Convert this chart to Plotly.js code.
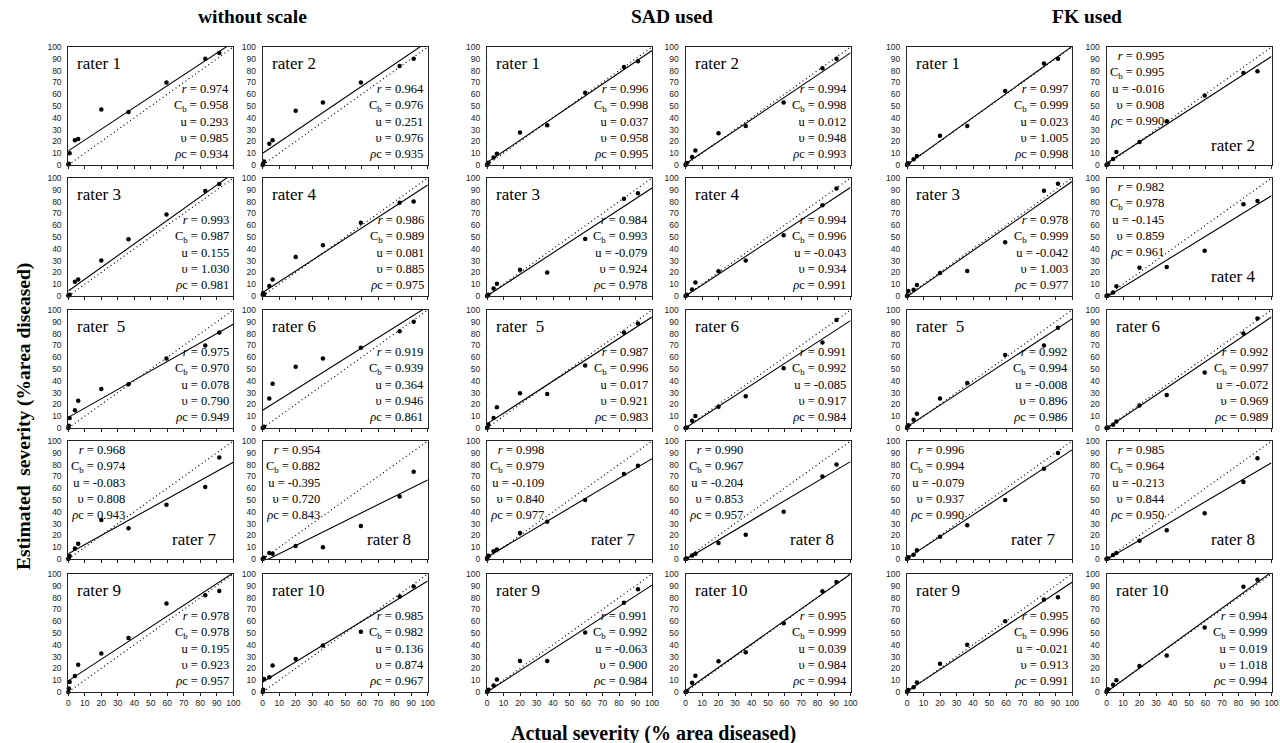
<!DOCTYPE html>
<html>
<head>
<meta charset="utf-8">
<script src="https://cdn.plot.ly/plotly-3.0.1.min.js"></script>
<style>html,body{margin:0;padding:0;background:#fff;}#chart{width:1280px;height:743px;}</style>
</head>
<body>
<div id="chart"></div>
<script>
// ---------- data ----------
const actual = [0, 0.3, 0.8, 4, 6, 20, 36.5, 59.5, 83, 91.5];
const groupNames = ['without scale', 'SAD used', 'FK used'];
const raterLabels = ['rater 1','rater 2','rater 3','rater 4','rater\u00a0 5','rater 6','rater 7','rater 8','rater 9','rater 10'];
const tickVals = [0,10,20,30,40,50,60,70,80,90,100];
const identity = [0, 100];

const noScaleY = [
  [0.5, 1, 10, 21, 22, 47, 45, 70, 90, 95],
  [0, 1, 3, 18, 21, 46, 53, 70, 84, 90],
  [0.5, 0.5, 1, 12, 14, 30, 48, 69, 89, 95],
  [1, 2.5, 1.5, 8.5, 14, 33, 43, 62, 79, 80],
  [0, 2, 8.5, 15, 23, 33, 37, 59, 70, 81],
  [0, 0.5, 1, 25, 37.5, 52, 59, 68, 82, 90],
  [0, 1, 2.5, 9, 13, 33, 26, 46, 61, 86],
  [0, 0.5, 1, 5, 4.5, 11, 10, 28, 53, 74],
  [0, 3, 8.5, 13.6, 23, 32.7, 45.7, 75, 82, 85.5],
  [0, 2, 11, 12.5, 22.4, 28, 39.5, 51, 81, 89.5]
];
const sadY = [
  [0, 1, 2, 6.4, 9.5, 27.5, 33.6, 61.3, 83, 88],
  [0, 1, 1.7, 6.7, 12.3, 27, 33, 53, 82, 90],
  [0, 0.5, 1, 6.4, 10.3, 22.3, 20, 48.3, 82.4, 87],
  [0, 0.5, 1, 5.6, 11.5, 21, 30, 51.5, 77, 91],
  [0, 0.5, 3, 8.4, 17.6, 29.4, 28.9, 53, 81, 88.5],
  [0, 0.3, 0.5, 6.2, 10.2, 18, 27, 50.7, 72.5, 91.5],
  [0, 1.4, 2.8, 6.5, 8, 22, 31.5, 50, 72, 79],
  [0, 0.3, 0.5, 3, 4.5, 13.5, 20.5, 40, 70, 80],
  [0, 1, 2, 5.6, 10.6, 26.3, 26.3, 50.4, 75.6, 87],
  [0, 0.3, 0.5, 7.8, 13.7, 26, 33.6, 58.3, 85.4, 93.3]
];
const fkY = [
  [0, 1, 1.4, 4.8, 7.6, 24.8, 33, 62.8, 86, 90],
  [0, 0.5, 1, 5, 11, 19.4, 37, 59, 78, 79.4],
  [0, 0.5, 4.2, 5.4, 9.3, 19.5, 21.2, 45.5, 89.3, 95.2],
  [0, 0.3, 0.5, 3, 8.2, 24, 24.6, 38.4, 77.7, 80.5],
  [0, 1.4, 2.3, 7, 12, 25, 38.2, 61.8, 70, 85],
  [0, 0.3, 0.5, 2.8, 5.6, 19, 28, 47, 80, 92.7],
  [0, 0.9, 1.4, 3.7, 7.4, 18.8, 28.7, 50, 76.4, 89.8],
  [0, 0.3, 0.5, 3.4, 5, 15.4, 24.4, 38.7, 65.3, 85.4],
  [0, 1, 1.7, 4, 8, 24, 40, 60, 78.3, 80.3],
  [0, 1.4, 2.3, 6.2, 10, 22, 31, 54.6, 89.3, 95.2]
];
// regression line: estimated value at actual = 0 and at actual = 100
const lineX = [0, 100];
const noScaleLine = [[12,104],[10,104.5],[4.3,104],[3,94],[9,88],[15,103],[4.5,82],[-2.5,67],[9.4,101],[8.5,94]];
const sadLine = [[2,97],[1,95],[0,91.5],[0,92],[3.5,94],[0,91],[1.5,85],[-0.5,82.5],[0,90.5],[1,100]];
const fkLine = [[0.3,100.5],[1.5,92],[-0.5,97],[-1,85],[1,92.5],[-0.5,94],[0.5,92.5],[-0.5,81.5],[0.5,93],[0,101.5]];

// statistics: r, Cb, u, v, rho_c
const noScaleStats = [
  ['0.974','0.958','0.293','0.985','0.934'],
  ['0.964','0.976','0.251','0.976','0.935'],
  ['0.993','0.987','0.155','1.030','0.981'],
  ['0.986','0.989','0.081','0.885','0.975'],
  ['0.975','0.970','0.078','0.790','0.949'],
  ['0.919','0.939','0.364','0.946','0.861'],
  ['0.968','0.974','-0.083','0.808','0.943'],
  ['0.954','0.882','-0.395','0.720','0.843'],
  ['0.978','0.978','0.195','0.923','0.957'],
  ['0.985','0.982','0.136','0.874','0.967']
];
const sadStats = [
  ['0.996','0.998','0.037','0.958','0.995'],
  ['0.994','0.998','0.012','0.948','0.993'],
  ['0.984','0.993','-0.079','0.924','0.978'],
  ['0.994','0.996','-0.043','0.934','0.991'],
  ['0.987','0.996','0.017','0.921','0.983'],
  ['0.991','0.992','-0.085','0.917','0.984'],
  ['0.998','0.979','-0.109','0.840','0.977'],
  ['0.990','0.967','-0.204','0.853','0.957'],
  ['0.991','0.992','-0.063','0.900','0.984'],
  ['0.995','0.999','0.039','0.984','0.994']
];
const fkStats = [
  ['0.997','0.999','0.023','1.005','0.998'],
  ['0.995','0.995','-0.016','0.908','0.990'],
  ['0.978','0.999','-0.042','1.003','0.977'],
  ['0.982','0.978','-0.145','0.859','0.961'],
  ['0.992','0.994','-0.008','0.896','0.986'],
  ['0.992','0.997','-0.072','0.969','0.989'],
  ['0.996','0.994','-0.079','0.937','0.990'],
  ['0.985','0.964','-0.213','0.844','0.950'],
  ['0.995','0.996','-0.021','0.913','0.991'],
  ['0.994','0.999','0.019','1.018','0.994']
];

// ---------- layout config (pixels) ----------
const W = 1280, H = 743;
const colLefts = [[68.3, 262.7], [487, 685.5], [907, 1106.5]];
const panelW = 165;
const rowTops = [47, 178, 310, 441, 574];
const panelH = 118;
const statsTopLeft = [[7, 8], [7, 8], [2, 4, 7, 8]];
const titleX = [252, 672, 1087];

const groups = [
  {ys: noScaleY, lines: noScaleLine, stats: noScaleStats},
  {ys: sadY, lines: sadLine, stats: sadStats},
  {ys: fkY, lines: fkLine, stats: fkStats}
];

const serif = 'Liberation Serif, Times New Roman, serif';
const sans = 'Liberation Sans, Arial, sans-serif';

const traces = [];
const layout = {
  width: W, height: H,
  margin: {l: 0, r: 0, t: 0, b: 0},
  paper_bgcolor: '#fff', plot_bgcolor: '#fff',
  showlegend: false,
  annotations: []
};

let idx = 0;
groups.forEach((g, gi) => {
  for (let k = 0; k < 10; k++) {
    idx++;
    const row = Math.floor(k / 2), col = k % 2;
    const sfx = idx === 1 ? '' : String(idx);
    const xa = 'x' + sfx, ya = 'y' + sfx;
    const left = colLefts[gi][col], top = rowTops[row];
    const axBase = {
      range: [0, 100], tickvals: tickVals, showgrid: false, zeroline: false,
      showline: true, mirror: true, linecolor: '#222', linewidth: 1,
      tickwidth: 1, tickcolor: '#222',
      tickfont: {family: sans, size: 8.5, color: '#222'}, fixedrange: true
    };
    layout['xaxis' + sfx] = Object.assign({}, axBase, {
      domain: [left / W, (left + panelW) / W], anchor: ya,
      ticks: 'outside', ticklen: 3,
      showticklabels: row === 4
    });
    layout['yaxis' + sfx] = Object.assign({}, axBase, {
      domain: [1 - (top + panelH) / H, 1 - top / H], anchor: xa,
      ticks: '', showticklabels: true, ticklabelstandoff: 4
    });
    // 1:1 dotted line
    traces.push({x: identity, y: identity, xaxis: xa, yaxis: ya, mode: 'lines',
      line: {color: '#000', width: 1.2, dash: '1px,3px'}, hoverinfo: 'skip'});
    // regression line
    traces.push({x: lineX, y: g.lines[k], xaxis: xa, yaxis: ya, mode: 'lines',
      line: {color: '#000', width: 1.1}, hoverinfo: 'skip'});
    // points
    traces.push({x: actual, y: g.ys[k], xaxis: xa, yaxis: ya, mode: 'markers',
      marker: {color: '#000', size: 4.5}, cliponaxis: false});

    const s = g.stats[k];
    const txt = '<i>r</i> = ' + s[0] + '<br>C<sub>b</sub> = ' + s[1] + '<br>u = ' + s[2] +
                '<br>\u03c5 = ' + s[3] + '<br><i>\u03c1</i>c = ' + s[4];
    const tl = statsTopLeft[gi].includes(k + 1);
    if (tl) {
      layout.annotations.push({xref: xa, yref: ya, x: 0, y: 100, xanchor: 'left', yanchor: 'top',
        xshift: 1, yshift: 0, align: 'right', showarrow: false, text: txt,
        font: {family: serif, size: 12.5, color: '#000'}});
      layout.annotations.push({xref: xa, yref: ya, x: 100, y: 0, xanchor: 'right', yanchor: 'bottom',
        xshift: -15, yshift: 8, showarrow: false, text: raterLabels[k],
        font: {family: serif, size: 17, color: '#000'}});
    } else {
      layout.annotations.push({xref: xa, yref: ya, x: 100, y: 0, xanchor: 'right', yanchor: 'bottom',
        xshift: -2, yshift: 2, align: 'right', showarrow: false, text: txt,
        font: {family: serif, size: 12.5, color: '#000'}});
      layout.annotations.push({xref: xa, yref: ya, x: 0, y: 100, xanchor: 'left', yanchor: 'top',
        xshift: 7, yshift: -5, showarrow: false, text: raterLabels[k],
        font: {family: serif, size: 17, color: '#000'}});
    }
  }
  layout.annotations.push({xref: 'paper', yref: 'paper', x: titleX[gi] / W, y: 1 - 16 / H,
    xanchor: 'center', yanchor: 'middle', showarrow: false, text: '<b>' + groupNames[gi] + '</b>',
    font: {family: serif, size: 19.5, color: '#000'}});
});

layout.annotations.push({xref: 'paper', yref: 'paper', x: 653 / W, y: 1 - 733 / H,
  xanchor: 'center', yanchor: 'middle', showarrow: false,
  text: '<b>Actual severity (% area diseased)</b>',
  font: {family: serif, size: 20, color: '#000'}});
layout.annotations.push({xref: 'paper', yref: 'paper', x: 24 / W, y: 1 - 417 / H,
  xanchor: 'center', yanchor: 'middle', showarrow: false, textangle: -90,
  text: '<b>Estimated\u00a0 severity (%area diseased)</b>',
  font: {family: serif, size: 19.5, color: '#000'}});

Plotly.newPlot('chart', traces, layout, {displayModeBar: false, staticPlot: true});
</script>
</body>
</html>
